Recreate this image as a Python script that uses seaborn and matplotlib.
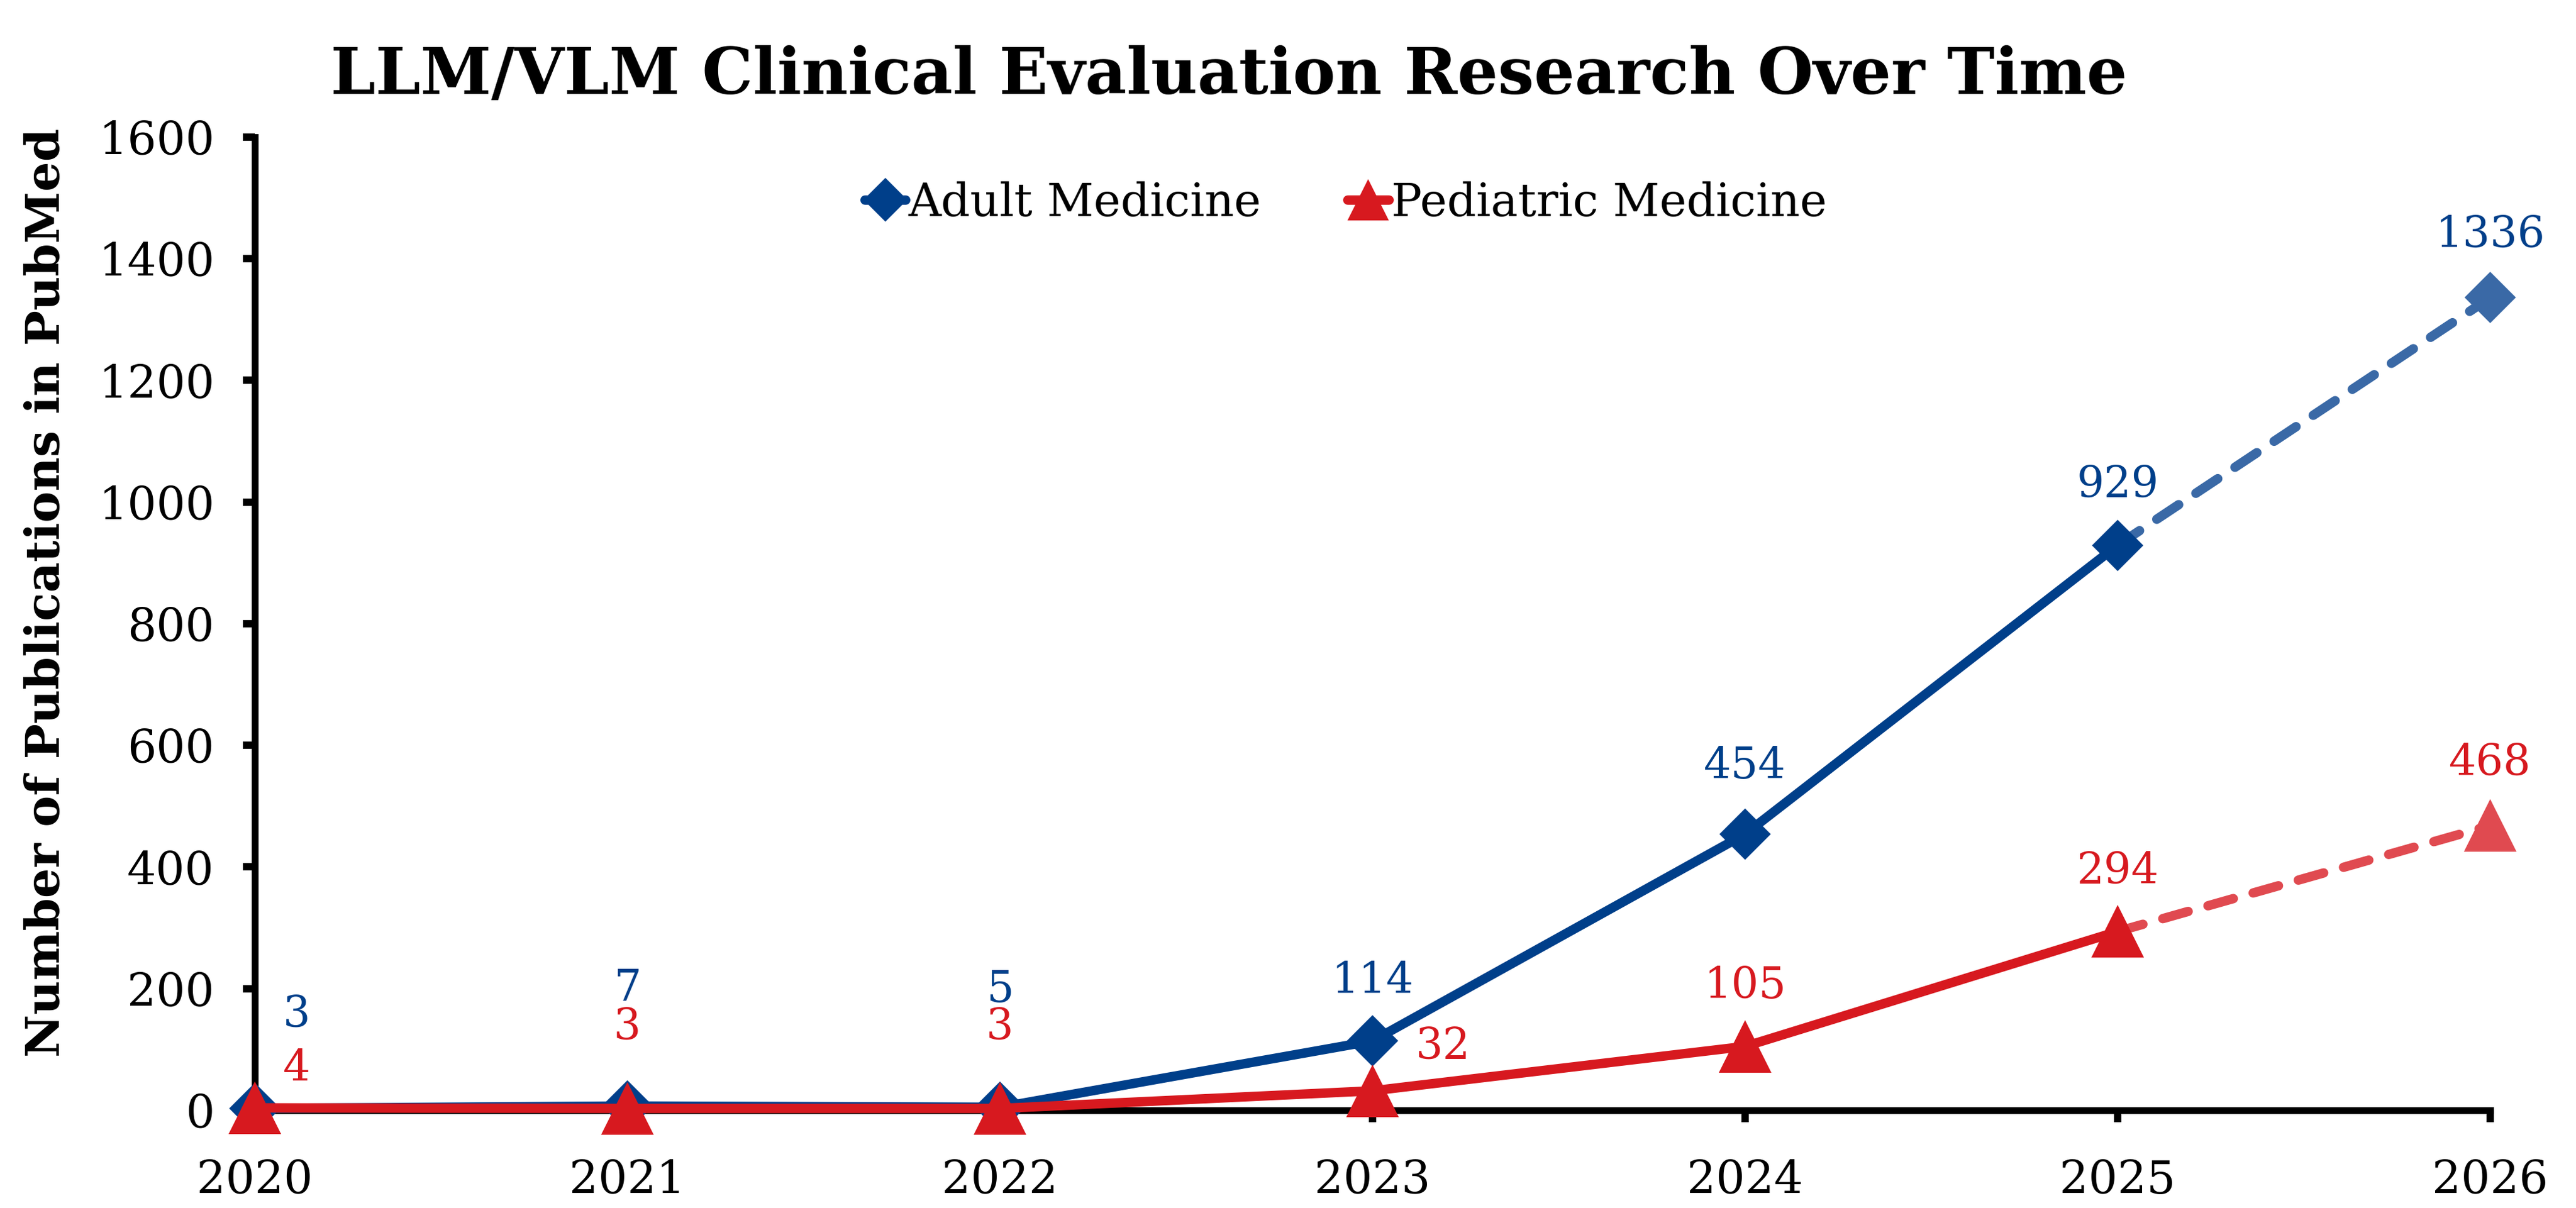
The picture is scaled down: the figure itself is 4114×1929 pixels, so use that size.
import numpy as np
import pandas as pd
import seaborn as sns
import matplotlib.pyplot as plt
from matplotlib.lines import Line2D

# data
years = [2020, 2021, 2022, 2023, 2024, 2025, 2026]
adult = [3, 7, 5, 114, 454, 929, 1336]
pediatric = [4, 3, 3, 32, 105, 294, 468]
y_ticks = [0, 200, 400, 600, 800, 1000, 1200, 1400, 1600]

# label offsets in points (dx, dy)
adult_offsets = [(16, 36), (0, 45), (0, 45), (0, 23), (0, 26), (0, 23), (0, 24)]
ped_offsets = [(16, 15), (0, 31), (0, 31), (27, 17), (0, 23), (0, 23), (0, 24)]

blue = '#003f8a'
blue_light = '#3a69a6'
red = '#d7191f'
red_light = '#e04a50'

sns.set_style('ticks')
plt.rcParams['font.family'] = ['DejaVu Serif']
plt.rcParams['text.color'] = 'black'
plt.rcParams['axes.labelcolor'] = 'black'
plt.rcParams['xtick.color'] = 'black'
plt.rcParams['ytick.color'] = 'black'

df = pd.DataFrame({'year': years, 'adult': adult, 'pediatric': pediatric})
actual = df[df['year'] <= 2025]
proj = df[df['year'] >= 2025]

fig = plt.figure(figsize=(4114 / 300, 1929 / 300), dpi=300)
ax = fig.add_axes([0.0989, 0.0809, 0.8678, 0.8056])

lw = 3.6
# projected dashed segments
sns.lineplot(data=proj, x='year', y='adult', ax=ax, color=blue_light, lw=lw,
             linestyle=(0, (2.8, 2.2)), dash_capstyle='round', marker='D',
             markersize=14, markevery=[1], markeredgewidth=0, clip_on=False, zorder=3)
sns.lineplot(data=proj, x='year', y='pediatric', ax=ax, color=red_light, lw=lw,
             linestyle=(0, (2.8, 2.2)), dash_capstyle='round', marker='^',
             markersize=20, markevery=[1], markeredgewidth=0, clip_on=False, zorder=3)
# actual solid lines
sns.lineplot(data=actual, x='year', y='adult', ax=ax, color=blue, lw=lw,
             marker='D', markersize=14, markeredgewidth=0, clip_on=False, zorder=4)
sns.lineplot(data=actual, x='year', y='pediatric', ax=ax, color=red, lw=lw,
             marker='^', markersize=20, markeredgewidth=0, clip_on=False, zorder=5)

for i, (x, v) in enumerate(zip(years, adult)):
    ax.annotate(str(v), (x, v), xytext=adult_offsets[i], textcoords='offset points',
                ha='center', va='center', fontsize=16.5, color=blue)
for i, (x, v) in enumerate(zip(years, pediatric)):
    ax.annotate(str(v), (x, v), xytext=ped_offsets[i], textcoords='offset points',
                ha='center', va='center', fontsize=16.5, color=red)

ax.set_xlim(2020, 2026)
ax.set_ylim(0, 1600)
ax.set_xticks(years)
ax.set_yticks(y_ticks)
ax.tick_params(axis='both', labelsize=17.5, width=2.8, length=4.5, color='black')
ax.tick_params(axis='y', pad=11)
ax.tick_params(axis='x', pad=14)
for s in ['top', 'right']:
    ax.spines[s].set_visible(False)
for s in ['left', 'bottom']:
    ax.spines[s].set_linewidth(2.6)
    ax.spines[s].set_color('black')

ax.set_xlabel('')
ax.set_ylabel('Number of Publications in PubMed', fontsize=18, fontweight='bold')
ax.yaxis.set_label_coords(-0.083, 0.532)

handles = [
    Line2D([], [], color=blue, lw=lw, marker='D', markersize=12, markeredgewidth=0),
    Line2D([], [], color=red, lw=lw, marker='^', markersize=16, markeredgewidth=0),
]
ax.legend(handles, ['Adult Medicine', 'Pediatric Medicine'], loc='center',
          bbox_to_anchor=(0.488, 0.932), ncol=2, frameon=False, fontsize=17.5,
          handlelength=0.9, handletextpad=0.05, columnspacing=1.9)

fig.text(0.477, 0.937, 'LLM/VLM Clinical Evaluation Research Over Time',
         ha='center', va='center', fontsize=24.5, fontweight='bold')

fig.savefig('out.png', dpi=300)
